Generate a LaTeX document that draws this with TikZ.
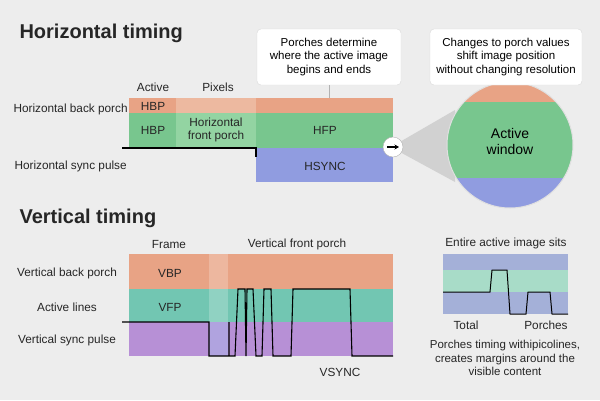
\documentclass[tikz,border=0pt]{standalone}
\usepackage{fontspec}
\setmainfont{Liberation Sans}
\usetikzlibrary{arrows.meta}
\begin{document}
\begin{tikzpicture}[x=1pt,y=-1pt,
  lbl/.style={font=\fontsize{11.8}{13}\selectfont,text=black!85},
  ttl/.style={font=\fontsize{20}{24}\selectfont\bfseries,anchor=west,text=black!85},
  callout/.style={draw=black!15,fill=white,rounded corners=4pt,align=center,font=\fontsize{11.5}{13.5}\selectfont,inner sep=2pt},
  sig/.style={black,line width=1.1pt}]
\definecolor{bg}{HTML}{EDEDED}
\definecolor{org}{HTML}{E8A385}
\definecolor{orgl}{HTML}{EDB9A0}
\definecolor{grn}{HTML}{78C68E}
\definecolor{grnl}{HTML}{93D4A2}
\definecolor{blu}{HTML}{909CE0}
\definecolor{teal}{HTML}{72C6B2}
\definecolor{pur}{HTML}{B790D6}
\definecolor{mblu}{HTML}{A4B0D8}
\definecolor{mgrn}{HTML}{A8DCC8}
\fill[bg] (0,0) rectangle (600,400);
\useasboundingbox (0,0) rectangle (600,400);
% Horizontal
\node[ttl] (ht) at (16,33) {Horizontal timing};
\fill[org] (129,98) rectangle (393,113);
\fill[orgl] (176,98) rectangle (256,113);
\fill[grn] (129,113) rectangle (393,148);
\fill[grnl] (176,113) rectangle (256,148);
\fill[blu] (256,148) rectangle (393,182);
\node[lbl] (hbp1) at (153,106) {HBP};
\node[lbl] (hbp2) at (153,130) {HBP};
\node[lbl,align=center,font=\fontsize{11.8}{12.5}\selectfont] (hfpo) at (216,130) {Horizontal\\front porch};
\node[lbl] (hfp) at (325,130) {HFP};
\node[lbl] (hs) at (325,166) {HSYNC};
\node[lbl] (act) at (153,87) {Active};
\node[lbl] (pix) at (218,87) {Pixels};
\node[lbl,anchor=west] (hbpl) at (10,109) {Horizontal back porch};
\node[lbl,anchor=west] (hspl) at (11,166) {Horizontal sync pulse};
\draw[sig] (122,148) -- (256,148) -- (256,157);
\node[callout,minimum width=144pt,minimum height=56pt] (c1) at (329,57) {Porches determine\\where the active image\\begins and ends};
\coordinate (c1t) at (329,98);
\draw[black!30,line width=0.8pt] (c1.south) -- (c1t);
% magnifier
\fill[black!18] (398,143) -- (455,110) -- (455,182) -- (398,151) -- cycle;
\begin{scope}
\clip (510,145) circle (63);
\fill[org] (440,70) rectangle (580,102);
\fill[grn] (440,102) rectangle (580,178);
\fill[blu] (440,178) rectangle (580,220);
\end{scope}
\draw[black!12,line width=1pt] (510,145) circle (63);
\node[font=\fontsize{14}{16}\selectfont,align=center] (aw) at (510,141) {Active\\window};
\node[circle,draw=black!30,fill=white,minimum size=20pt,inner sep=0pt] (arr) at (393,147) {};
\coordinate (a1) at (387,147);
\coordinate (a2) at (399,147);
\draw[line width=1.2pt,-{Stealth[length=4.5pt,width=5pt]}] (a1) -- (a2);
\node[callout,minimum width=152pt,minimum height=56pt] (c2) at (506,57) {Changes to porch values\\shift image position\\without changing resolution};
% Vertical
\node[ttl] (vt) at (16,218) {Vertical timing};
\fill[org] (129,254) rectangle (393,289);
\fill[teal] (129,289) rectangle (393,322);
\fill[pur] (129,322) rectangle (393,356);
\fill[white,opacity=0.22] (209,254) rectangle (228,356);
\fill[blu,opacity=0.4] (209,322) rectangle (228,356);
\node[lbl] (fr) at (169,244) {Frame};
\node[lbl] (vfpt) at (297,244) {Vertical front porch};
\node[lbl] (vbp) at (170,273) {VBP};
\node[lbl] (vfp) at (170,307) {VFP};
\node[lbl] (vbpl) at (67,273) {Vertical back porch};
\node[lbl] (all) at (67,307) {Active lines};
\node[lbl] (vspl) at (67,340) {Vertical sync pulse};
\node[lbl] (vs) at (340,372) {VSYNC};
\draw[sig] (122,322) -- (209,322) -- (209,356) -- (229,356) -- (229,322) -- (229,356) -- (235,356) -- (238,289) -- (245,289) -- (246,356) -- (247,289) -- (253,289) -- (256,356) -- (262,356) -- (264,289) -- (271,289) -- (273,356) -- (291,356) -- (293,289) -- (350,289) -- (352,356) -- (393,356);
% mini chart
\fill[mblu] (443,254) rectangle (568,314);
\fill[mgrn] (443,270) rectangle (568,292);
\draw[sig,line width=1pt] (443,292) -- (490,292) -- (492,270) -- (507,270) -- (510,314) -- (526,314) -- (528,292) -- (550,292) -- (552,314) -- (568,314);
\node[lbl] (eai) at (506,243) {Entire active image sits};
\node[lbl] (tot) at (466,325) {Total};
\node[lbl] (por) at (546,325) {Porches};
\node[lbl,align=center,font=\fontsize{11.5}{13.5}\selectfont] (cap) at (505,358) {Porches timing withipicolines,\\creates margins around the\\visible content};
\end{tikzpicture}
\end{document}
